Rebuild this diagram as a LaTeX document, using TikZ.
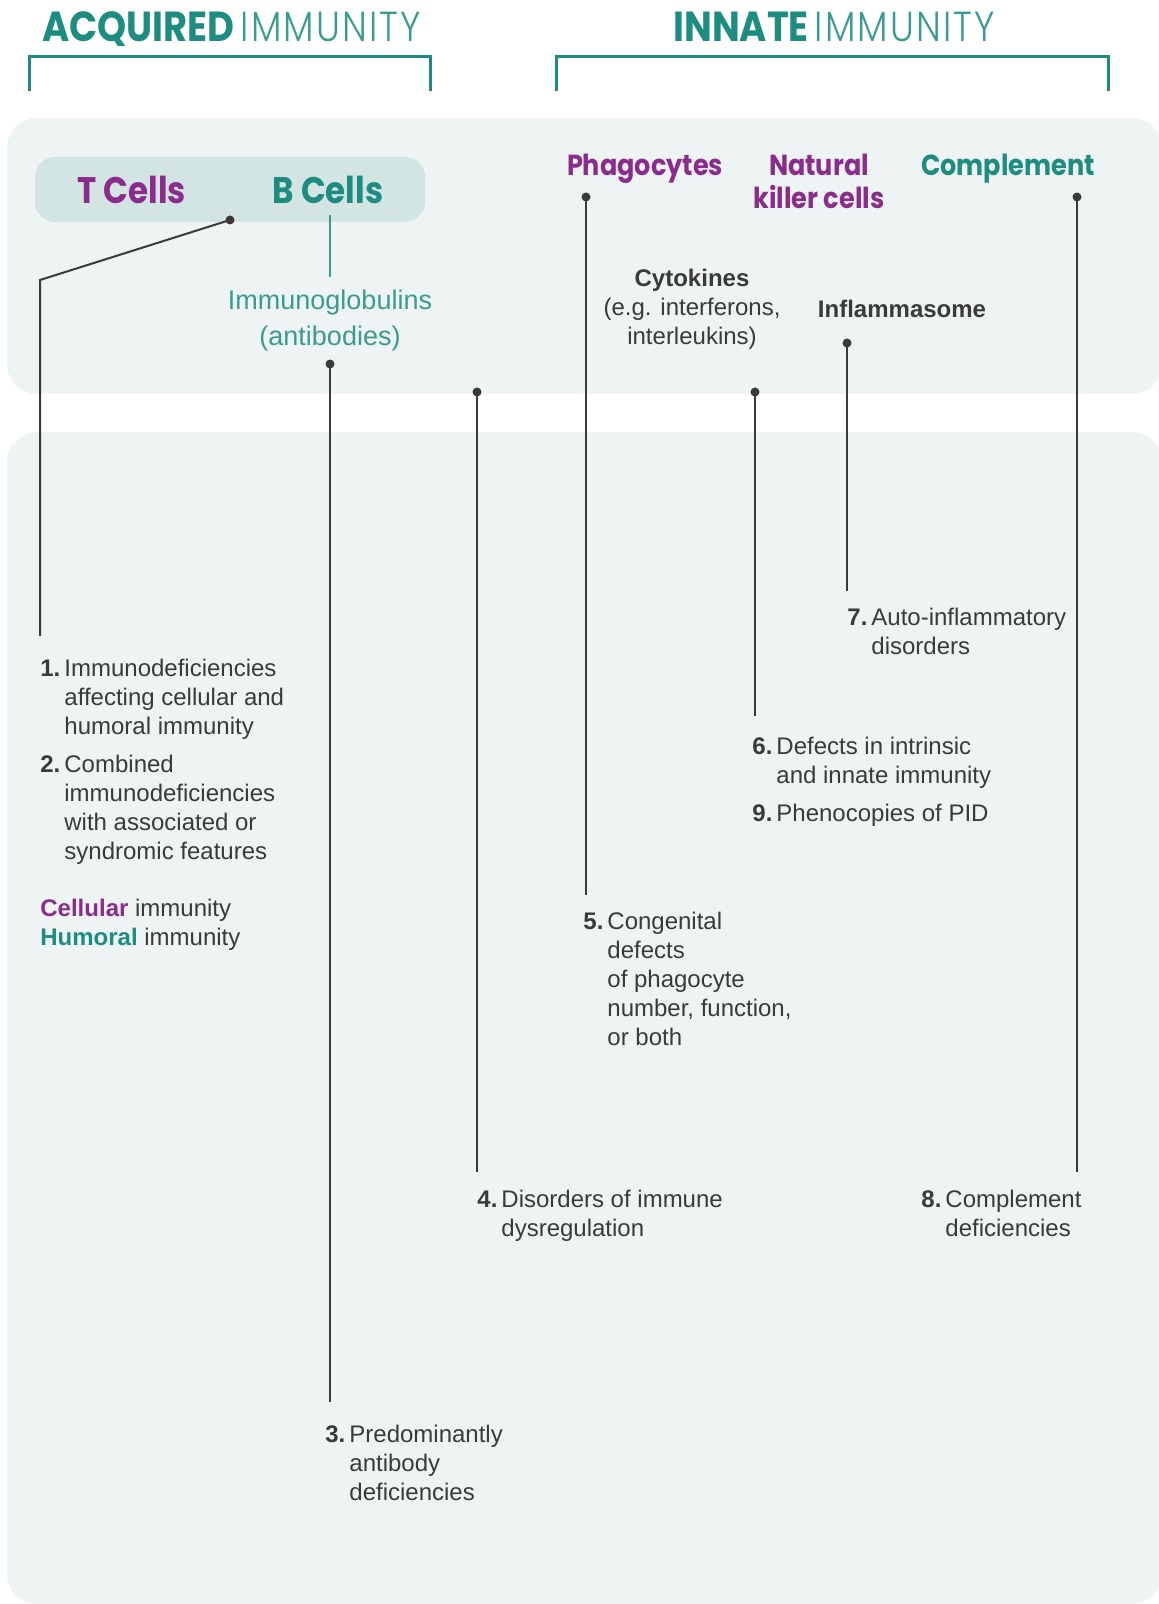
\documentclass[tikz,border=0pt]{standalone}
\usepackage{fontspec}
\setmainfont{Liberation Sans}
\newfontfamily\headfont[FakeStretch=0.88]{Poppins}
\newfontfamily\headlight[FakeStretch=0.86,LetterSpace=5]{Poppins Light}
\usetikzlibrary{arrows,positioning}
\definecolor{tealhead}{HTML}{1E8C80}
\definecolor{tealtext}{HTML}{3A9C8E}
\definecolor{purp}{HTML}{8B2C8D}
\definecolor{panel}{HTML}{EEF4F4}
\definecolor{cellbox}{HTML}{D3E5E2}
\definecolor{ink}{HTML}{3A3A3A}
\newcommand\defect[2]{\begin{tabular}[t]{@{}l@{\hspace{2pt}}l@{}}\textbf{#1.}&#2\end{tabular}}
\tikzset{
    %Define style for headings
    heading/.style={
           font=\headfont\fontsize{21}{24}\selectfont,
           text=tealhead,
           anchor=base west,
           inner sep=0pt},
    %Define style for cell names
    cell/.style={
           font=\headfont\bfseries\fontsize{14.5}{16.5}\selectfont,
           anchor=base,
           align=center,
           inner sep=0pt},
    body/.style={
           font=\fontsize{12}{14.5}\selectfont,
           text=ink,
           inner sep=0pt},
    item/.style={
           body,
           anchor=base west},
    dot/.style={
           circle,
           fill=ink,
           inner sep=0pt,
           minimum size=4.5pt},
    bracket/.style={
           draw=tealhead,
           line width=1.5pt},
    % Define line style
    pil/.style={
           draw=ink,
           line width=1pt}
}
\begin{document}
\begin{tikzpicture}[x=0.5pt,y=-0.5pt]
\useasboundingbox (0,0) rectangle (1158,1604);
%panels
\fill[panel,rounded corners=15pt] (7,118) rectangle (1162,394);
\fill[panel,rounded corners=15pt] (7,432) rectangle (1162,1604);
\fill[cellbox,rounded corners=10pt] (35,157) rectangle (425,222);
%headings
\node[heading] (acq) at (42,42) {{\bfseries ACQUIRED}\hspace{3pt}{\headlight\color{tealtext}IMMUNITY}};
\node[heading] (inn) at (673,42) {{\bfseries INNATE}\hspace{3pt}{\headlight\color{tealtext}IMMUNITY}};
\draw[bracket] (29,91) |- (430,57) -- (430,91);
\draw[bracket] (556,91) |- (1108,57) -- (1108,91);
%nodes
\node[cell,text=purp,font=\headfont\bfseries\fontsize{18.5}{20}\selectfont] (tcell) at (132,204) {T Cells};
\node[cell,text=tealhead,font=\headfont\bfseries\fontsize{18.5}{20}\selectfont] (bcell) at (328,204) {B Cells};
\node[body,anchor=base,align=center,text=tealtext,font=\fontsize{13.5}{18}\selectfont] (ig) at (330,346) {Immunoglobulins\\(antibodies)};
\node[cell,text=purp] (phago) at (645,176) {Phagocytes};
\node[cell,text=purp] (nk) at (819,209) {Natural\\killer cells};
\node[cell,text=tealhead] (compl) at (1008,176) {Complement};
\node[body,anchor=base,align=center] (cyto) at (692,345) {\textbf{Cytokines}\\(e.g. interferons,\\interleukins)};
\node[body,anchor=base,font=\bfseries\fontsize{12}{14.5}\selectfont] (infl) at (902,318) {Inflammasome};
%disorders
\node[item] (d1) at (40,676) {\defect{1}{Immunodeficiencies\\&affecting cellular and\\&humoral immunity}};
\node[item] (d2) at (40,772) {\defect{2}{Combined\\&immunodeficiencies\\&with associated or\\&syndromic features}};
\node[item,align=left] (legend) at (40,945) {\textcolor{purp}{\textbf{Cellular}} immunity\\\textcolor{tealhead}{\textbf{Humoral}} immunity};
\node[item] (d3) at (325,1442) {\defect{3}{Predominantly\\&antibody\\&deficiencies}};
\node[item] (d4) at (477,1207) {\defect{4}{Disorders of immune\\&dysregulation}};
\node[item] (d5) at (583,929) {\defect{5}{Congenital\\&defects\\&of phagocyte\\&number, function,\\&or both}};
\node[item] (d6) at (752,754) {\defect{6}{Defects in intrinsic\\&and innate immunity}};
\node[item] (d9) at (752,821) {\defect{9}{Phenocopies of PID}};
\node[item] (d7) at (847,625) {\defect{7}{Auto-inflammatory\\&disorders}};
\node[item] (d8) at (921,1207) {\defect{8}{Complement\\&deficiencies}};
%dots and line ends
\node[dot] (tdot) at (230,220) {};
\node[dot] (igdot) at (330,364) {};
\node[dot] (regdot) at (477,392) {};
\node[dot] (phdot) at (586,197) {};
\node[dot] (cydot) at (755,392) {};
\node[dot] (indot) at (847,343) {};
\node[dot] (codot) at (1077,197) {};
\coordinate (tbend) at (40,280);
\coordinate (e1) at (40,636);
\coordinate (b1) at (330,215);
\coordinate (b2) at (330,277);
\coordinate (e3) at (330,1402);
\coordinate (e4) at (477,1172);
\coordinate (e5) at (586,895);
\coordinate (e6) at (755,716);
\coordinate (e7) at (847,591);
\coordinate (e8) at (1077,1172);
\draw[pil] (tdot.center) -- (tbend) -- (e1);
\draw[pil,draw=tealtext] (b1) -- (b2);
\draw[pil] (igdot.center) -- (e3);
\draw[pil] (regdot.center) -- (e4);
\draw[pil] (phdot.center) -- (e5);
\draw[pil] (cydot.center) -- (e6);
\draw[pil] (indot.center) -- (e7);
\draw[pil] (codot.center) -- (e8);
\end{tikzpicture}
\end{document}
